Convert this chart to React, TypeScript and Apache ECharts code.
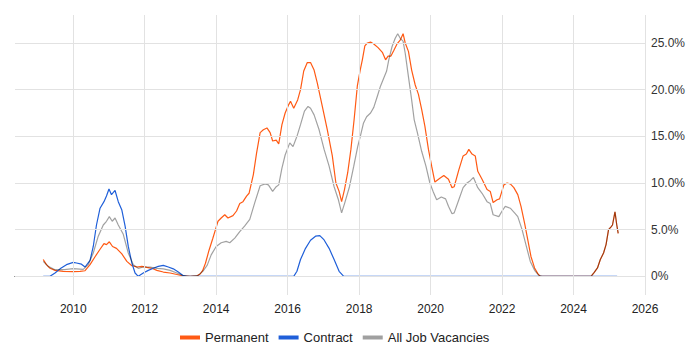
import React, { useEffect, useRef } from "react";
import * as echarts from "echarts";

const yearTicks = [2010, 2012, 2014, 2016, 2018, 2020, 2022, 2024, 2026];
const pctTicks = [0, 5, 10, 15, 20, 25];

const permanent: [number, number][] = [
  [2009.16, 1.8], [2009.25, 1.25], [2009.35, 0.86], [2009.49, 0.64], [2009.72, 0.54],
  [2010.0, 0.5], [2010.19, 0.54], [2010.33, 0.6], [2010.47, 1.25], [2010.61, 2.1],
  [2010.75, 2.9], [2010.86, 3.5], [2010.93, 3.4], [2011.01, 3.7], [2011.1, 3.2],
  [2011.21, 3.0], [2011.36, 2.4], [2011.5, 1.6], [2011.64, 1.14], [2011.78, 1.0],
  [2011.92, 1.07], [2012.06, 0.96], [2012.2, 0.86], [2012.34, 0.64], [2012.52, 0.46],
  [2012.71, 0.36], [2012.9, 0.2], [2013.08, 0.04], [2013.27, 0], [2013.46, 0.05],
  [2013.55, 0.25], [2013.62, 0.6], [2013.7, 1.4], [2013.8, 2.8], [2013.9, 4.0],
  [2013.98, 5.0], [2014.05, 5.9], [2014.14, 6.25], [2014.24, 6.6], [2014.33, 6.25],
  [2014.47, 6.5], [2014.57, 7.0], [2014.66, 7.8], [2014.75, 8.0], [2014.85, 8.6],
  [2014.92, 8.9], [2015.04, 10.9], [2015.13, 13.2], [2015.23, 15.4], [2015.32, 15.7],
  [2015.42, 15.9], [2015.51, 15.4], [2015.58, 14.5], [2015.68, 14.6], [2015.75, 14.2],
  [2015.84, 16.25], [2015.93, 17.5], [2016.03, 18.4], [2016.08, 18.75], [2016.17, 18.0],
  [2016.28, 18.9], [2016.36, 20.0], [2016.45, 22.0], [2016.55, 22.9], [2016.64, 22.9],
  [2016.74, 22.1], [2016.83, 20.7], [2016.97, 18.2], [2017.11, 15.7], [2017.25, 12.9],
  [2017.35, 10.0], [2017.44, 9.1], [2017.51, 8.0], [2017.59, 9.3], [2017.68, 11.1],
  [2017.77, 13.6], [2017.86, 16.8], [2017.95, 20.4], [2018.03, 22.1], [2018.09, 23.2],
  [2018.16, 24.7], [2018.23, 25.0], [2018.32, 25.1], [2018.41, 24.9], [2018.53, 24.5],
  [2018.65, 24.0], [2018.74, 23.2], [2018.81, 23.6], [2018.89, 23.6], [2018.97, 24.2],
  [2019.06, 24.9], [2019.15, 25.3], [2019.23, 26.0], [2019.29, 25.0], [2019.38, 24.1],
  [2019.47, 22.1], [2019.57, 20.5], [2019.66, 19.5], [2019.75, 17.9], [2019.84, 16.1],
  [2019.94, 13.6], [2020.03, 11.8], [2020.12, 10.1], [2020.26, 10.5], [2020.37, 10.8],
  [2020.5, 10.4], [2020.6, 9.5], [2020.66, 9.6], [2020.79, 11.4], [2020.91, 12.9],
  [2021.0, 13.1], [2021.07, 13.6], [2021.16, 13.1], [2021.25, 12.9], [2021.32, 11.25],
  [2021.44, 10.4], [2021.58, 9.3], [2021.67, 9.1], [2021.75, 7.9], [2021.86, 8.2],
  [2021.93, 8.3], [2022.05, 9.8], [2022.14, 10.0], [2022.23, 9.9], [2022.33, 9.5],
  [2022.44, 8.75], [2022.53, 7.5], [2022.63, 5.7], [2022.72, 3.9], [2022.81, 2.1],
  [2022.91, 0.9], [2023.0, 0.29], [2023.07, 0], [2024.49, 0], [2024.58, 0.43],
  [2024.67, 0.9], [2024.75, 1.8], [2024.84, 2.5], [2024.91, 3.4], [2024.98, 5.0],
  [2025.05, 5.3], [2025.09, 5.5], [2025.16, 6.9], [2025.21, 5.5], [2025.25, 4.6],
];

const contract: [number, number][] = [
  [2009.16, 0], [2009.35, 0], [2009.49, 0.36], [2009.63, 0.8], [2009.81, 1.25],
  [2010.0, 1.5], [2010.09, 1.43], [2010.23, 1.3], [2010.33, 1.0], [2010.47, 1.7],
  [2010.56, 3.2], [2010.65, 5.5], [2010.75, 7.3], [2010.86, 8.0], [2010.93, 8.6],
  [2011.0, 9.36], [2011.07, 8.75], [2011.17, 9.2], [2011.26, 8.0], [2011.36, 7.1],
  [2011.45, 5.4], [2011.54, 3.2], [2011.64, 1.43], [2011.73, 0.36], [2011.82, 0],
  [2011.96, 0.36], [2012.1, 0.64], [2012.24, 0.86], [2012.38, 1.07], [2012.52, 1.18],
  [2012.66, 1.0], [2012.8, 0.8], [2012.94, 0.46], [2013.08, 0.07], [2013.18, 0],
  [2016.17, 0], [2016.26, 0.54], [2016.36, 1.8], [2016.5, 3.0], [2016.64, 3.86],
  [2016.78, 4.3], [2016.9, 4.36], [2017.02, 3.9], [2017.16, 3.0], [2017.3, 1.8],
  [2017.44, 0.54], [2017.57, 0], [2025.22, 0],
];

const allJobs: [number, number][] = [
  [2009.16, 1.6], [2009.3, 1.07], [2009.49, 0.71], [2009.75, 0.71], [2010.0, 0.82],
  [2010.28, 0.75], [2010.42, 1.25], [2010.56, 2.5], [2010.7, 4.3], [2010.84, 5.5],
  [2010.93, 5.9], [2011.01, 6.4], [2011.09, 5.9], [2011.17, 6.25], [2011.26, 5.5],
  [2011.4, 4.5], [2011.54, 2.5], [2011.68, 1.25], [2011.82, 0.86], [2011.96, 1.0],
  [2012.15, 1.0], [2012.34, 0.86], [2012.52, 0.8], [2012.71, 0.64], [2012.9, 0.36],
  [2013.08, 0.07], [2013.27, 0], [2013.5, 0.1], [2013.64, 0.6], [2013.75, 1.2],
  [2013.86, 2.3], [2014.0, 3.2], [2014.14, 3.6], [2014.28, 3.75], [2014.38, 3.6],
  [2014.52, 4.1], [2014.66, 4.8], [2014.8, 5.4], [2014.94, 6.1], [2015.08, 7.9],
  [2015.23, 9.7], [2015.37, 9.9], [2015.46, 9.8], [2015.58, 9.1], [2015.68, 9.6],
  [2015.75, 9.8], [2015.84, 11.6], [2015.93, 13.0], [2016.06, 14.3], [2016.15, 13.9],
  [2016.26, 15.0], [2016.36, 16.25], [2016.47, 17.7], [2016.57, 18.2], [2016.64, 18.0],
  [2016.74, 17.3], [2016.88, 15.7], [2017.02, 13.6], [2017.16, 11.8], [2017.3, 9.6],
  [2017.42, 8.2], [2017.51, 6.8], [2017.6, 7.9], [2017.73, 9.6], [2017.85, 11.8],
  [2017.96, 13.9], [2018.04, 15.1], [2018.12, 16.4], [2018.21, 17.1], [2018.32, 17.5],
  [2018.41, 18.1], [2018.51, 19.3], [2018.6, 20.4], [2018.69, 21.25], [2018.77, 22.0],
  [2018.83, 23.2], [2018.92, 24.6], [2019.01, 25.5], [2019.08, 26.0], [2019.15, 25.5],
  [2019.23, 25.2], [2019.29, 23.9], [2019.38, 21.4], [2019.47, 18.9], [2019.54, 16.8],
  [2019.63, 15.4], [2019.75, 13.4], [2019.87, 11.8], [2019.98, 10.0], [2020.07, 9.1],
  [2020.17, 8.2], [2020.3, 8.5], [2020.42, 8.3], [2020.5, 7.5], [2020.6, 6.7],
  [2020.66, 6.8], [2020.79, 8.2], [2020.91, 9.5], [2021.02, 10.0], [2021.11, 10.25],
  [2021.2, 10.6], [2021.32, 9.5], [2021.44, 8.9], [2021.58, 8.0], [2021.67, 7.8],
  [2021.75, 6.6], [2021.91, 6.4], [2022.0, 7.0], [2022.09, 7.5], [2022.23, 7.3],
  [2022.35, 6.8], [2022.44, 6.4], [2022.56, 5.0], [2022.68, 3.2], [2022.79, 1.6],
  [2022.91, 0.64], [2023.03, 0.1], [2023.12, 0], [2024.49, 0], [2024.58, 0.43],
  [2024.67, 0.9], [2024.75, 1.8], [2024.84, 2.5], [2024.91, 3.4], [2024.98, 5.0],
  [2025.05, 5.3], [2025.09, 5.5], [2025.16, 6.9], [2025.21, 5.5], [2025.25, 4.6],
];

const FONT = "'Liberation Sans', Arial, sans-serif";

export default function App() {
  const ref = useRef<HTMLDivElement>(null);
  useEffect(() => {
    if (!ref.current) return;
    const chart = echarts.init(ref.current, null, { renderer: "svg" });
    const gridColor = "#e2e2e2";
    chart.setOption({
      animation: false,
      textStyle: { fontFamily: FONT },
      grid: { left: 15, right: 55, top: 15, bottom: 55 },
      legend: {
        data: ["Permanent", "Contract", "All Job Vacancies"],
        top: 326,
        left: 175,
        icon: "rect",
        itemWidth: 20,
        itemHeight: 4,
        itemGap: 10,
        textStyle: { fontSize: 13, color: "#222", fontFamily: FONT },
      },
      xAxis: {
        type: "value",
        min: 2008.37,
        max: 2026,
        splitLine: { show: false },
        axisLine: { show: true, lineStyle: { color: "#000", width: 1 } },
        axisTick: { show: true, customValues: yearTicks, length: 5, lineStyle: { color: "#000" } },
        axisLabel: {
          customValues: yearTicks,
          formatter: (v: number) => String(Math.round(v)),
          fontSize: 12,
          color: "#222",
          margin: 8,
          fontFamily: FONT,
        },
      },
      yAxis: {
        type: "value",
        position: "right",
        min: -2,
        max: 28,
        splitLine: { show: false },
        axisLine: { show: false },
        axisTick: { show: false },
        axisLabel: {
          customValues: pctTicks,
          formatter: (v: number) => (v === 0 ? "0%" : v.toFixed(1) + "%"),
          fontSize: 12,
          color: "#333",
          margin: 6,
          fontFamily: FONT,
        },
      },
      series: [
        {
          name: "_grid",
          type: "line",
          data: [[2010, 0]],
          showSymbol: false,
          lineStyle: { opacity: 0 },
          silent: true,
          z: 1,
          markLine: {
            silent: true,
            symbol: ["none", "none"],
            label: { show: false },
            lineStyle: { color: gridColor, type: "solid", width: 1 },
            data: [
              ...pctTicks.map((v) => ({ yAxis: v })),
              ...yearTicks.map((v) => ({ xAxis: v })),
            ],
          },
        },
        {
          name: "Permanent",
          type: "line",
          data: permanent,
          showSymbol: false,
          color: "#ff5a14",
          lineStyle: { width: 1.2, color: "#ff5a14" },
          z: 2,
        },
        {
          name: "Contract",
          type: "line",
          data: contract,
          showSymbol: false,
          color: "#1f5fd9",
          lineStyle: { width: 1.2, color: "#1f5fd9" },
          z: 3,
        },
        {
          name: "All Job Vacancies",
          type: "line",
          data: allJobs,
          showSymbol: false,
          color: "#a0a0a0",
          lineStyle: { width: 1.2, color: "rgba(0,0,0,0.37)" },
          z: 4,
        },
      ],
    });
    return () => chart.dispose();
  }, []);
  return <div ref={ref} style={{ width: 700, height: 350, position: "absolute", left: 0, top: 0 }} />;
}
